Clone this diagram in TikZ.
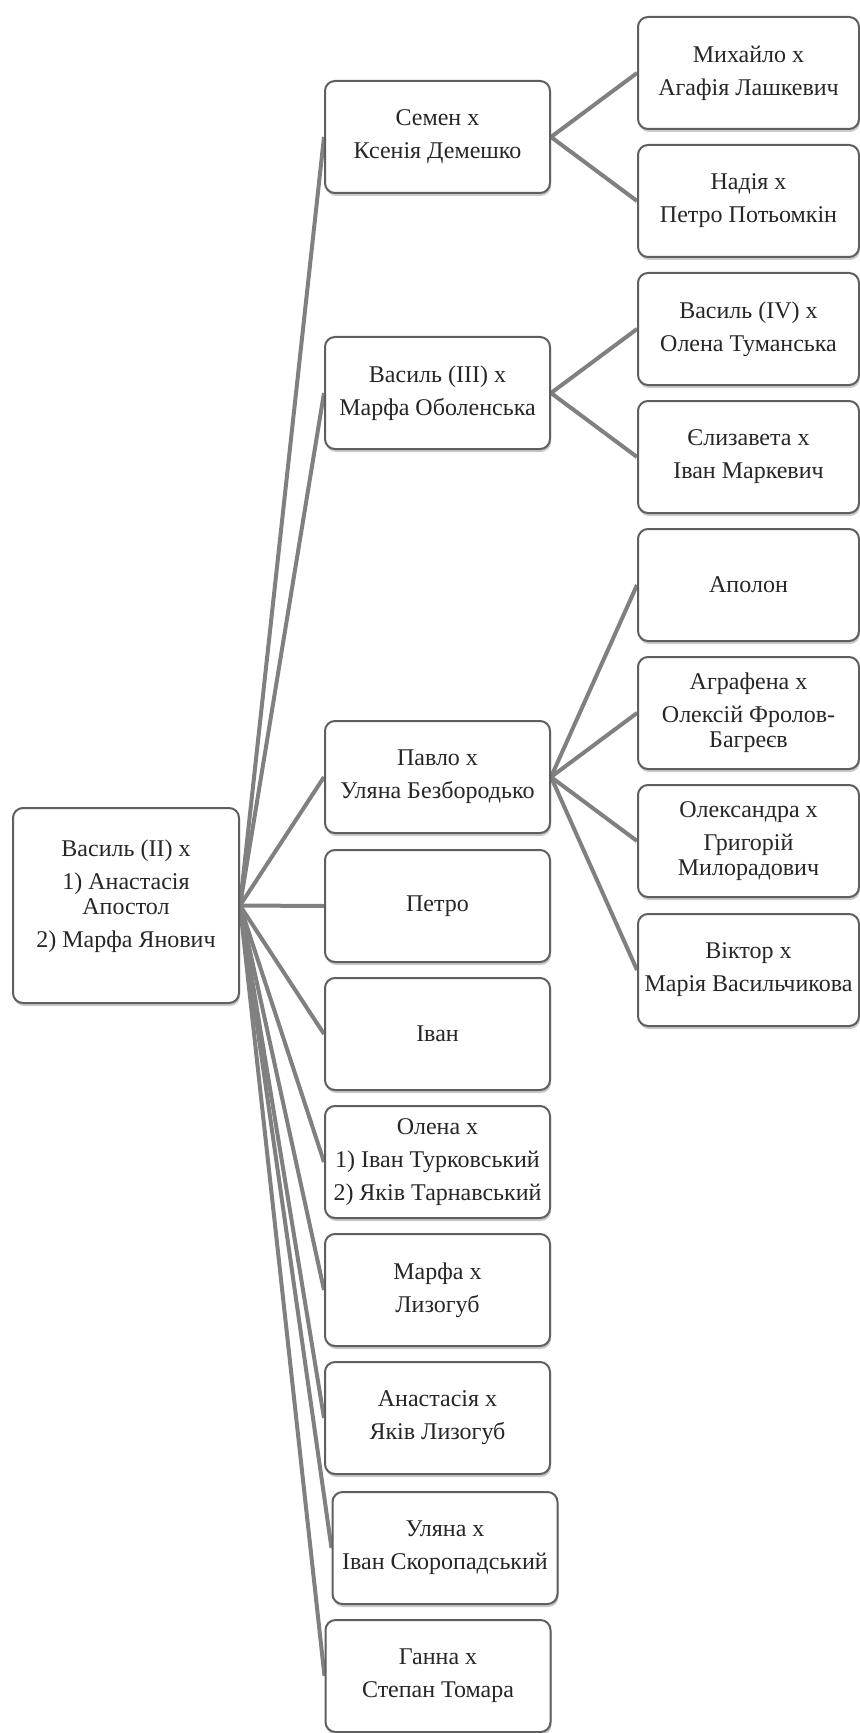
\documentclass[tikz,border=0pt]{standalone}
\usepackage{fontspec}
\setmainfont{Liberation Serif}
\usetikzlibrary{shadows,backgrounds}
\definecolor{linkgray}{RGB}{128,128,128}
\definecolor{edgegray}{RGB}{95,95,95}
\tikzset{
  person/.style={draw=edgegray, line width=1pt, rounded corners=5pt, fill=white,
    align=center, text=black!85, inner sep=0pt,
    font=\fontsize{12}{12.5}\selectfont,
    drop shadow={shadow xshift=0.5pt, shadow yshift=-1.5pt, fill=black!60, opacity=0.35}},
  child/.style={person, minimum width=112.5pt, minimum height=56pt},
  grandchild/.style={person, minimum width=110.5pt, minimum height=56pt},
  link/.style={draw=linkgray, line width=2pt}
}

\begin{document}
\begin{tikzpicture}[x=0.5pt, y=-0.5pt]
\useasboundingbox (0,0) rectangle (860,1733);

%root
\node[person, minimum width=113pt, minimum height=97.5pt, text depth=12pt] (vasyltwo) at (126,905.5)
  {Василь (II) x\\[4pt] 1) Анастасія\\ Апостол\\[4pt] 2) Марфа Янович};

%children
\node[child] (semen) at (437.5,137) {Семен x\\[4pt] Ксенія Демешко};
\node[child] (vasylthree) at (437.5,393) {Василь (III) x\\[4pt] Марфа Оболенська};
\node[child] (pavlo) at (437.5,777) {Павло x\\[4pt] Уляна Безбородько};
\node[child] (petro) at (437.5,906) {Петро};
\node[child] (ivan) at (437.5,1034) {Іван};
\node[child] (olena) at (437.5,1162) {Олена x\\[4pt] 1) Іван Турковський\\[4pt] 2) Яків Тарнавський};
\node[child] (marfa) at (437.5,1290) {Марфа x\\[4pt] Лизогуб};
\node[child] (anastasia) at (437.5,1418) {Анастасія x\\[4pt] Яків Лизогуб};
\node[child] (uliana) at (445,1548) {Уляна x\\[4pt] Іван Скоропадський};
\node[child] (hanna) at (438,1676) {Ганна x\\[4pt] Степан Томара};

%grandchildren
\node[grandchild] (mykhailo) at (748.5,73) {Михайло x\\[4pt] Агафія Лашкевич};
\node[grandchild] (nadia) at (748.5,201) {Надія x\\[4pt] Петро Потьомкін};
\node[grandchild] (vasylfour) at (748.5,329) {Василь (IV) x\\[4pt] Олена Туманська};
\node[grandchild] (yelyzaveta) at (748.5,457) {Єлизавета x\\[4pt] Іван Маркевич};
\node[grandchild] (apolon) at (748.5,585) {Аполон};
\node[grandchild] (ahrafena) at (748.5,713) {Аграфена x\\[4pt] Олексій Фролов-\\ Багреєв};
\node[grandchild] (oleksandra) at (748.5,841) {Олександра x\\[4pt] Григорій\\ Милорадович};
\node[grandchild] (viktor) at (748.5,970) {Віктор x\\[4pt] Марія Васильчикова};

%links
\begin{scope}[on background layer]
\foreach \c in {semen,vasylthree,pavlo,petro,ivan,olena,marfa,anastasia,uliana,hanna}
  \draw[link] (vasyltwo.east) -- (\c.west);
\foreach \c in {mykhailo,nadia}
  \draw[link] (semen.east) -- (\c.west);
\foreach \c in {vasylfour,yelyzaveta}
  \draw[link] (vasylthree.east) -- (\c.west);
\foreach \c in {apolon,ahrafena,oleksandra,viktor}
  \draw[link] (pavlo.east) -- (\c.west);
\end{scope}

\end{tikzpicture}
\end{document}
